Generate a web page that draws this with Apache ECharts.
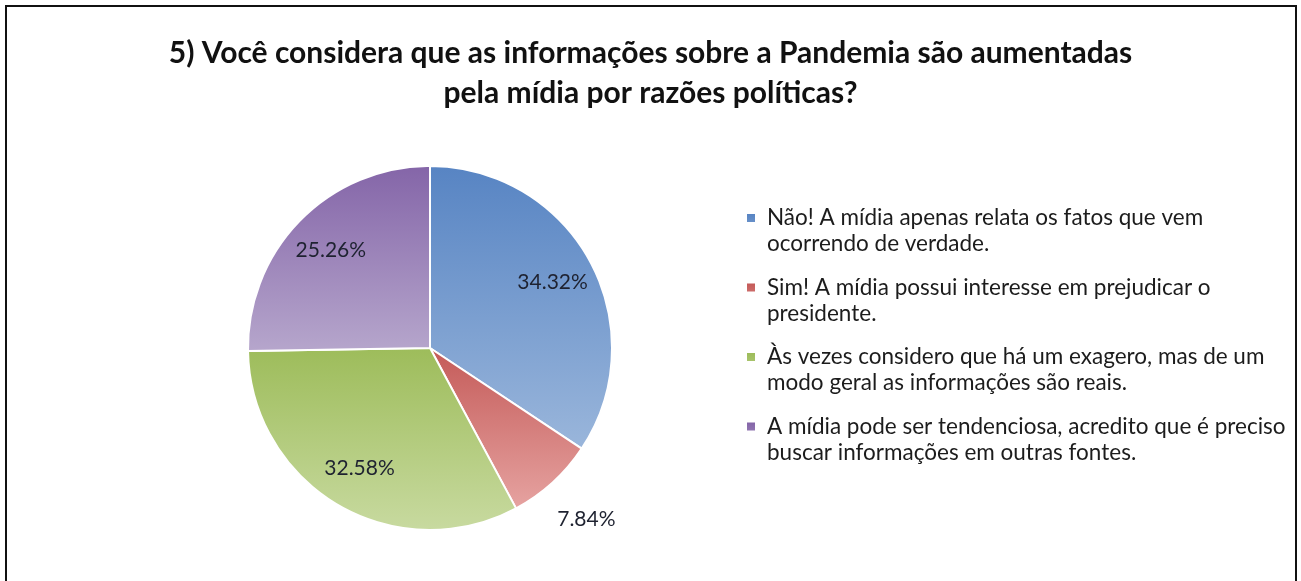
<!DOCTYPE html>
<html>
<head>
<meta charset="utf-8">
<title>Pandemia e mídia</title>
<script src="https://cdn.jsdelivr.net/npm/echarts@6/dist/echarts.min.js"></script>
<style>
  html, body { margin: 0; padding: 0; background: #fff; }
  #chart { width: 1301px; height: 581px; }
</style>
</head>
<body>
<div id="chart"></div>
<script>
const titleText = '5) Você considera que as informações sobre a Pandemia são aumentadas\npela mídia por razões políticas?'

const categories = [
  'Não! A mídia apenas relata os fatos que vem\nocorrendo de verdade.',
  'Sim! A mídia possui interesse em prejudicar o\npresidente.',
  'Às vezes considero que há um exagero, mas de um\nmodo geral as informações são reais.',
  'A mídia pode ser tendenciosa, acredito que é preciso\nbuscar informações em outras fontes.'
]
const percents = [34.32, 7.84, 32.58, 25.26]

// cores: topo mais escuro, base mais clara (gradiente tipo Excel)
const topColors = ['#5784c3', '#c45a58', '#9dbc5a', '#8465a8']
const bottomColors = ['#9ab6db', '#e6a3a1', '#c8daa0', '#b6a6cc']

const cx = 430
const cy = 348

const chart = echarts.init(document.getElementById('chart'))

chart.setOption({
  backgroundColor: '#fff',
  animation: false,
  graphic: [
    {
      type: 'rect',
      shape: { x: 6, y: 6, width: 1290, height: 600 },
      style: { fill: 'none', stroke: '#111', lineWidth: 2 }
    }
  ],
  title: {
    text: titleText,
    left: 'center',
    top: 28,
    textStyle: {
      fontFamily: 'Lato',
      fontWeight: 'bold',
      fontSize: 30,
      lineHeight: 40,
      color: '#111'
    }
  },
  legend: {
    orient: 'vertical',
    left: 742,
    top: 200,
    itemGap: 17.5,
    itemWidth: 8,
    itemHeight: 34,
    icon: 'path://M0,0H10V10H0Z M0,42.5H0.1',
    itemStyle: { borderWidth: 0 },
    textStyle: {
      fontFamily: 'Lato',
      fontSize: 22.5,
      lineHeight: 26,
      color: '#1c1c1c',
      padding: [0, 0, 0, 7]
    },
    data: categories
  },
  series: [
    {
      type: 'pie',
      center: [cx, cy],
      radius: 182,
      startAngle: 90,
      clockwise: true,
      silent: true,
      itemStyle: { borderColor: '#fff', borderWidth: 2 },
      label: {
        show: true,
        position: 'inside',
        fontFamily: 'Lato',
        fontSize: 21,
        color: '#1e2230',
        formatter: p => p.value.toFixed(2) + '%'
      },
      labelLine: { show: false },
      // afasta os rótulos do centro, como no original
      labelLayout: p => {
        const lx = p.labelRect.x + p.labelRect.width / 2
        const ly = p.labelRect.y + p.labelRect.height / 2
        const k = percents[p.dataIndex] < 10 ? 2.47 : 1.48
        return {
          x: cx + (lx - cx) * k,
          y: cy + (ly - cy) * k,
          align: 'center',
          verticalAlign: 'middle'
        }
      },
      data: categories.map((name, i) => ({
        name: name,
        value: percents[i],
        itemStyle: {
          color: new echarts.graphic.LinearGradient(0, 0, 0, 1, [
            { offset: 0, color: topColors[i] },
            { offset: 1, color: bottomColors[i] }
          ])
        }
      }))
    }
  ]
})
</script>
</body>
</html>
